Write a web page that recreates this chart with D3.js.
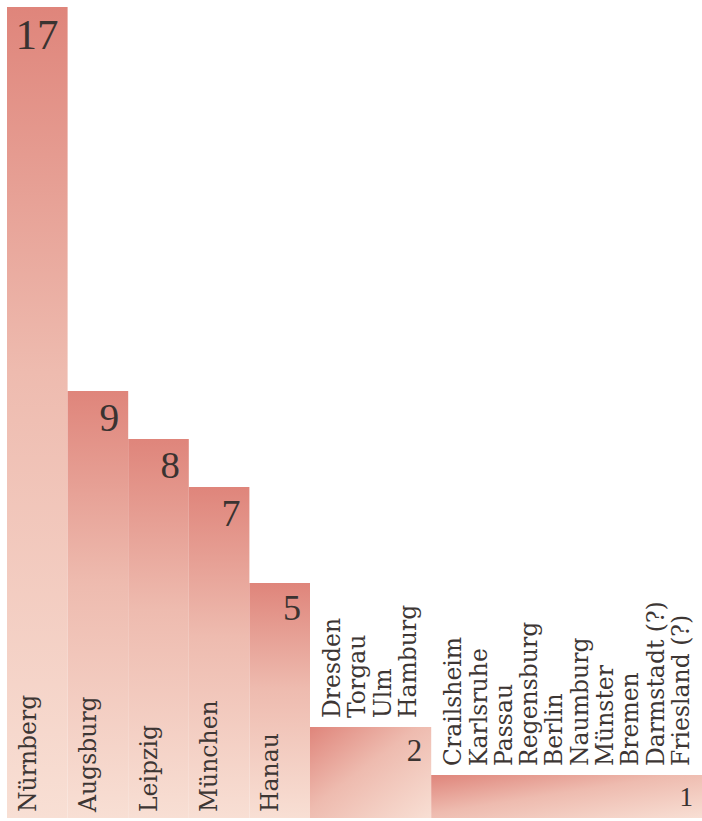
<!DOCTYPE html>
<html>
<head>
<meta charset="utf-8">
<script src="https://cdn.jsdelivr.net/npm/d3@7"></script>
<style>
  html, body { margin: 0; padding: 0; background: #fff; }
  svg { display: block; }
</style>
</head>
<body>
<svg id="chart"></svg>
<script>
// counts per place (several places share one bar when the count is equal)
var counts = [17, 9, 8, 7, 5, 2, 1];
var places = [
  ["Nürnberg"],
  ["Augsburg"],
  ["Leipzig"],
  ["München"],
  ["Hanau"],
  ["Dresden", "Torgau", "Ulm", "Hamburg"],
  ["Crailsheim", "Karlsruhe", "Passau", "Regensburg", "Berlin", "Naumburg",
   "Münster", "Bremen", "Darmstadt (?)", "Friesland (?)"]
];

var width = 702, height = 821,
    left = 7, base = 818;

var svg = d3.select("#chart")
    .attr("width", width)
    .attr("height", height);

// each bar gets at least two slots, grouped bars one slot per place
var slots = places.map(function(p) { return Math.max(2, p.length); });
var starts = [0];
slots.forEach(function(s, i) { starts.push(starts[i] + s); });

var x = d3.scaleLinear()
    .domain([0, d3.sum(slots)])
    .range([left, left + d3.sum(slots) * 30.3]);

var y = d3.scaleLinear()
    .domain([0, 17])
    .range([823, 7]);

var numSize = d3.scaleLog()
    .domain([1, 17])
    .range([27, 43]);

var bars = counts.map(function(c, i) {
  var x0 = x(starts[i]);
  var x1 = Math.min(x(starts[i + 1]), width);
  return {count: c, names: places[i], x0: x0, x1: x1, top: y(c), group: places[i].length > 1};
});

// gradients: singles fade top -> bottom, groups fade top-left -> bottom-right
var defs = svg.append("defs");
bars.forEach(function(d, i) {
  var g = defs.append("linearGradient")
      .attr("id", "grad" + i)
      .attr("x1", 0).attr("y1", 0)
      .attr("x2", d.group ? 1 : 0).attr("y2", 1);
  g.append("stop").attr("offset", "0%").attr("stop-color", "#df857b");
  g.append("stop").attr("offset", "45%").attr("stop-color", "#eebbaf");
  g.append("stop").attr("offset", "100%").attr("stop-color", "#f8dfd4");
});

svg.selectAll("rect.bar")
  .data(bars)
  .enter()
  .append("rect")
    .attr("class", "bar")
    .attr("x", function(d) { return d.x0; })
    .attr("y", function(d) { return d.top; })
    .attr("width", function(d) { return d.x1 - d.x0; })
    .attr("height", function(d) { return base - d.top; })
    .attr("fill", function(d, i) { return "url(#grad" + i + ")"; });

// values, top right of each bar
svg.selectAll("text.count")
  .data(bars)
  .enter()
  .append("text")
    .attr("class", "count")
    .attr("x", function(d) { return d.x1 - 9; })
    .attr("y", function(d) { return d.top + 13 + 0.676 * numSize(d.count); })
    .attr("text-anchor", "end")
    .style("font-family", "'Liberation Serif', serif")
    .style("font-size", function(d) { return numSize(d.count) + "px"; })
    .style("fill", "#3a3331")
    .text(function(d) { return d.count; });

// place names, rotated; inside the bar for singles, stacked above for groups
bars.forEach(function(d) {
  d.names.forEach(function(name, j) {
    var bx = d.x0 + (d.group ? 30 : 28.5) + j * 25.3;
    var by = d.group ? d.top - 9 : base - 6;
    svg.append("text")
        .attr("transform", "translate(" + bx + "," + by + ")rotate(-90)")
        .attr("text-anchor", "start")
        .style("font-family", "'DejaVu Serif', serif")
        .style("font-size", "23.5px")
        .style("fill", "#3d3634")
        .text(name);
  });
});
</script>
</body>
</html>
